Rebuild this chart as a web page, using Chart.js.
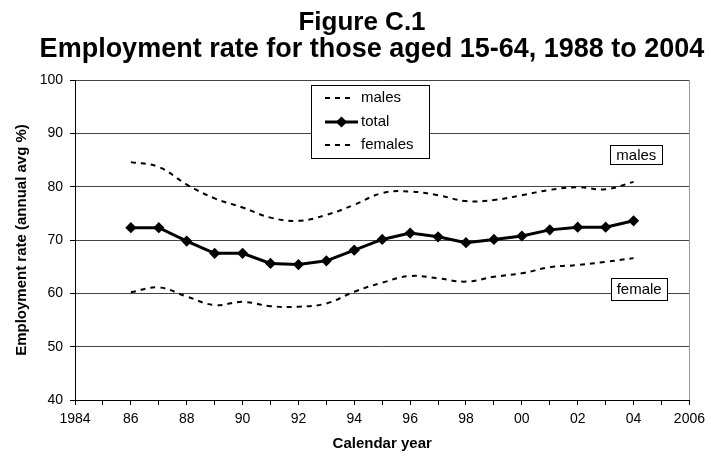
<!DOCTYPE html>
<html>
<head>
<meta charset="utf-8">
<script src="https://cdn.jsdelivr.net/npm/chart.js@4/dist/chart.umd.min.js"></script>
<style>
  html, body { margin: 0; padding: 0; background: #fff; }
  #wrap { width: 711px; height: 457px; }
</style>
</head>
<body>
<div id="wrap"><canvas id="c" width="711" height="457"></canvas></div>
<script>
// Employment rate, ages 15-64, annual averages (%)
const years   = [1986, 1987, 1988, 1989, 1990, 1991, 1992, 1993, 1994, 1995, 1996, 1997, 1998, 1999, 2000, 2001, 2002, 2003, 2004];
const males   = [84.6, 83.7, 80.4, 77.8, 76.1, 74.2, 73.6, 74.7, 76.6, 78.8, 79.1, 78.4, 77.3, 77.5, 78.4, 79.4, 79.9, 79.5, 80.9];
const total   = [72.3, 72.3, 69.8, 67.5, 67.5, 65.6, 65.4, 66.1, 68.1, 70.1, 71.3, 70.6, 69.5, 70.1, 70.75, 71.9, 72.4, 72.4, 73.6];
const females = [60.2, 61.1, 59.4, 57.8, 58.4, 57.6, 57.5, 58.1, 60.3, 62.0, 63.25, 62.8, 62.2, 63.1, 63.75, 64.9, 65.3, 65.9, 66.6];

// Axis ticks
const yTicks       = [40, 50, 60, 70, 80, 90, 100];
const xTickYears   = [1984, 1986, 1988, 1990, 1992, 1994, 1996, 1998, 2000, 2002, 2004, 2006];
const xTickLabels  = ['1984', '86', '88', '90', '92', '94', '96', '98', '00', '02', '04', '2006'];

// Text
const titleLines  = ['Figure C.1', 'Employment rate for those aged 15-64, 1988 to 2004'];
const seriesNames = ['males', 'total', 'females'];
const endLabels   = ['males', 'female'];

const FONT = '"Liberation Sans", Arial, Helvetica, sans-serif';

const toPoints = arr => years.map((yr, i) => ({ x: yr, y: arr[i] }));

// Boxed end-of-series labels, anchored in data coordinates
const endLabelPlacement = [
  { x: 2004.1, y: 86.0, w: 52, h: 19 },
  { x: 2004.2, y: 60.8, w: 56, h: 22 }
];

const titlePlugin = {
  id: 'twoLineTitle',
  afterDraw(chart) {
    const ctx = chart.ctx;
    ctx.save();
    ctx.fillStyle = '#000';
    ctx.textAlign = 'center';
    ctx.textBaseline = 'alphabetic';
    ctx.font = 'bold 26px ' + FONT;
    ctx.fillText(titleLines[0], 362, 30);
    ctx.font = 'bold 27px ' + FONT;
    ctx.fillText(titleLines[1], 372, 57);
    ctx.restore();
  }
};

const framePlugin = {
  id: 'rightFrame',
  beforeDatasetsDraw(chart) {
    const { ctx, chartArea } = chart;
    ctx.save();
    ctx.strokeStyle = '#999';
    ctx.lineWidth = 1;
    ctx.beginPath();
    ctx.moveTo(Math.round(chartArea.right) + 0.5, chartArea.top);
    ctx.lineTo(Math.round(chartArea.right) + 0.5, chartArea.bottom);
    ctx.stroke();
    ctx.restore();
  }
};

const legendPlugin = {
  id: 'boxLegend',
  afterDraw(chart) {
    const ctx = chart.ctx;
    const left = 311, top = 85, width = 118, height = 73;
    const rowY = [98, 122, 145];
    ctx.save();
    ctx.fillStyle = '#fff';
    ctx.fillRect(left, top, width, height);
    ctx.strokeStyle = '#000';
    ctx.lineWidth = 1;
    ctx.strokeRect(left + 0.5, top + 0.5, width, height);
    chart.data.datasets.forEach((ds, i) => {
      const y = rowY[i];
      ctx.strokeStyle = ds.borderColor;
      ctx.lineWidth = ds.borderWidth;
      ctx.setLineDash(ds.borderDash || []);
      ctx.beginPath();
      const x1 = ds.borderDash ? 352 : 358;
      ctx.moveTo(325, y);
      ctx.lineTo(x1, y);
      ctx.stroke();
      ctx.setLineDash([]);
      if (ds.pointRadius > 0) {
        Chart.helpers.drawPoint(ctx, {
          pointStyle: ds.pointStyle, radius: ds.pointRadius, rotation: 0, borderWidth: 1
        }, 341.5, y);
        ctx.fillStyle = ds.pointBackgroundColor;
        ctx.fill();
      }
      ctx.fillStyle = '#000';
      ctx.font = '15px ' + FONT;
      ctx.textAlign = 'left';
      ctx.textBaseline = 'middle';
      ctx.fillText(ds.label, 361, y);
    });
    ctx.restore();
  }
};

const endLabelPlugin = {
  id: 'endLabels',
  afterDraw(chart) {
    const { ctx, scales } = chart;
    ctx.save();
    ctx.font = '15px ' + FONT;
    ctx.textAlign = 'center';
    ctx.textBaseline = 'middle';
    endLabels.forEach((txt, i) => {
      const p = endLabelPlacement[i];
      const cx = scales.x.getPixelForValue(p.x);
      const cy = scales.y.getPixelForValue(p.y);
      const l = Math.round(cx - p.w / 2), t = Math.round(cy - p.h / 2);
      ctx.fillStyle = '#fff';
      ctx.fillRect(l, t, p.w, p.h);
      ctx.strokeStyle = '#000';
      ctx.lineWidth = 1;
      ctx.strokeRect(l + 0.5, t + 0.5, p.w, p.h);
      ctx.fillStyle = '#000';
      ctx.fillText(txt, cx, cy + 1);
    });
    ctx.restore();
  }
};

new Chart(document.getElementById('c'), {
  type: 'line',
  data: {
    datasets: [
      {
        label: seriesNames[0],
        data: toPoints(males),
        borderColor: '#000',
        borderWidth: 2,
        borderDash: [5, 5],
        pointRadius: 0,
        tension: 0.4,
        fill: false
      },
      {
        label: seriesNames[1],
        data: toPoints(total),
        borderColor: '#000',
        borderWidth: 3,
        pointStyle: 'rectRot',
        pointRadius: 3.5,
        pointBackgroundColor: '#000',
        pointBorderColor: '#000',
        tension: 0,
        fill: false
      },
      {
        label: seriesNames[2],
        data: toPoints(females),
        borderColor: '#000',
        borderWidth: 2,
        borderDash: [5, 5],
        pointRadius: 0,
        tension: 0.4,
        fill: false
      }
    ]
  },
  options: {
    responsive: false,
    animation: false,
    devicePixelRatio: 1,
    layout: { padding: { top: 80, right: 20, left: 0, bottom: 0 } },
    plugins: {
      legend: { display: false },
      title: { display: false },
      tooltip: { enabled: false }
    },
    scales: {
      x: {
        type: 'linear',
        min: 1984,
        max: 2006,
        afterFit(scale) { scale.height = 57; },
        ticks: {
          stepSize: 1,
          autoSkip: false,
          maxRotation: 0,
          padding: 6,
          color: '#000',
          font: { family: FONT, size: 14 },
          callback(value) {
            const i = xTickYears.indexOf(value);
            return i >= 0 ? xTickLabels[i] : '';
          }
        },
        grid: {
          drawOnChartArea: false,
          drawTicks: true,
          tickLength: 5,
          tickColor: '#000'
        },
        border: { display: true, color: '#000', width: 1 },
        title: {
          display: true,
          text: 'Calendar year',
          color: '#000',
          font: { family: FONT, size: 15, weight: 'bold' },
          padding: { top: 0, bottom: 4 }
        }
      },
      y: {
        min: 40,
        max: 100,
        afterFit(scale) { scale.width = 75; },
        afterBuildTicks(scale) { scale.ticks = yTicks.map(v => ({ value: v })); },
        ticks: {
          padding: 7,
          color: '#000',
          font: { family: FONT, size: 14 }
        },
        grid: {
          color: '#444',
          lineWidth: 1,
          drawTicks: true,
          tickLength: 5,
          tickColor: '#000'
        },
        border: { display: true, color: '#000', width: 1 },
        title: {
          display: true,
          text: 'Employment rate (annual avg %)',
          color: '#000',
          font: { family: FONT, size: 15, weight: 'bold' },
          padding: { top: 13, bottom: 0 }
        }
      }
    }
  },
  plugins: [framePlugin, titlePlugin, legendPlugin, endLabelPlugin]
});
</script>
</body>
</html>
